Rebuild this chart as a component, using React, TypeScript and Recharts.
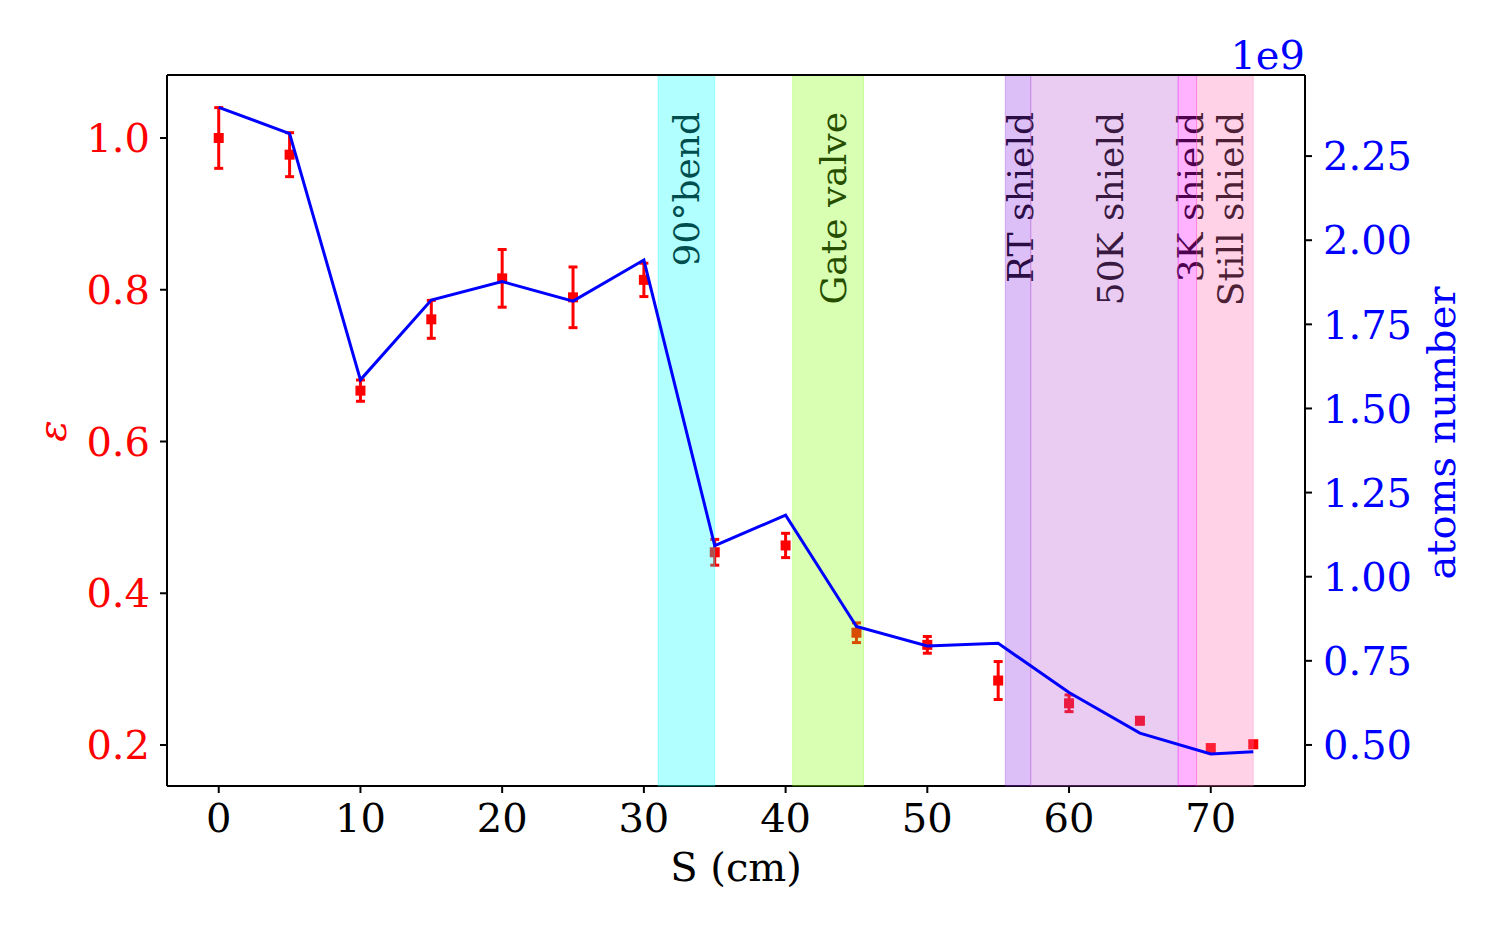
import React from "react";
import {
  ComposedChart,
  Line,
  Scatter,
  ErrorBar,
  XAxis,
  YAxis,
  ReferenceArea,
  ReferenceLine,
} from "recharts";

// position along the beam line, cm
const positions = [0, 5, 10, 15, 20, 25, 30, 35, 40, 45, 50, 55, 60, 65, 70, 73];
// efficiency epsilon and its error
const epsValues = [1.0, 0.978, 0.667, 0.761, 0.815, 0.79, 0.813, 0.454, 0.463, 0.348, 0.332, 0.285, 0.255, 0.232, 0.196, 0.201];
const epsErrors = [0.04, 0.029, 0.014, 0.025, 0.038, 0.04, 0.022, 0.017, 0.016, 0.013, 0.011, 0.025, 0.011, 0.004, 0.003, 0.004];
// atoms number, units of 1e9
const atomsValues = [2.395, 2.317, 1.585, 1.822, 1.877, 1.819, 1.941, 1.092, 1.183, 0.852, 0.794, 0.802, 0.656, 0.535, 0.473, 0.48];

const xTicks = [0, 10, 20, 30, 40, 50, 60, 70];
const epsTicks = [0.2, 0.4, 0.6, 0.8, 1.0];
const atomsTicks = [0.5, 0.75, 1.0, 1.25, 1.5, 1.75, 2.0, 2.25];

// shaded sections of the beam line
const sectionNames = ["90°bend", "Gate valve", "RT shield", "50K shield", "3K shield", "Still shield"];
const sectionStart = [31, 40.5, 55.5, 57.3, 67.7, 69.0];
const sectionEnd = [35, 45.5, 57.3, 67.7, 69.0, 73.0];
const sectionLabelX = [33.0, 43.4, 56.6, 62.9, 68.6, 71.4];
const sectionColors = ["#00ffff", "#7fff00", "#8a2be2", "#ba55d3", "#ff00ff", "#ff69b4"];

const X_DOMAIN = [-3.65, 76.65];
const EPS_DOMAIN = [0.146, 1.083];
const ATOMS_DOMAIN = [0.378, 2.491];

const data = positions.map((x, i) => ({
  x,
  eps: epsValues[i],
  err: epsErrors[i],
  atoms: atomsValues[i],
}));

const FONT = "DejaVu Serif";

const Square = (props: any) => {
  const { cx, cy } = props;
  if (cx == null || cy == null) return null;
  return <rect x={cx - 5} y={cy - 5} width={10} height={10} fill="#ff0000" />;
};

const sectionLabel = (name: string) => (props: any) => {
  const vb = props.viewBox || {};
  const x = vb.x;
  const y = (vb.y || 0) + 37;
  return (
    <text
      x={x}
      y={y}
      transform={`rotate(-90, ${x}, ${y})`}
      textAnchor="end"
      dominantBaseline="central"
      fontFamily={FONT}
      fontSize={36}
      fill="#000"
    >
      {name}
    </text>
  );
};

export default function App() {
  return (
    <div style={{ position: "absolute", left: 0, top: 0, width: 1500, height: 928, background: "#fff" }}>
      <ComposedChart
        width={1500}
        height={928}
        data={data}
        margin={{ top: 75, right: 0, bottom: 0, left: 0 }}
      >
        <XAxis
          dataKey="x"
          type="number"
          domain={X_DOMAIN}
          allowDataOverflow
          ticks={xTicks}
          height={142}
          stroke="#000"
          strokeWidth={2}
          tickSize={7}
          tickMargin={11}
          tick={{ fill: "#000", fontSize: 40, fontFamily: FONT }}
          label={(p: any) => {
            const vb = p.viewBox || {};
            return (
              <text x={vb.x + vb.width / 2} y={881} textAnchor="middle" fontFamily={FONT} fontSize={40} fill="#000">
                S (cm)
              </text>
            );
          }}
        />
        <YAxis
          yAxisId="left"
          type="number"
          domain={EPS_DOMAIN}
          allowDataOverflow
          ticks={epsTicks}
          tickFormatter={(v: number) => v.toFixed(1)}
          width={167}
          stroke="#000"
          strokeWidth={2}
          tickSize={7}
          tickMargin={10}
          tick={{ fill: "#ff0000", fontSize: 40, fontFamily: FONT }}
          label={() => (
            <text
              x={66}
              y={431}
              transform="rotate(-90, 66, 431)"
              textAnchor="middle"
              fontFamily={FONT}
              fontStyle="italic"
              fontSize={40}
              fill="#ff0000"
            >
              ε
            </text>
          )}
        />
        <YAxis
          yAxisId="right"
          orientation="right"
          type="number"
          domain={ATOMS_DOMAIN}
          allowDataOverflow
          ticks={atomsTicks}
          tickFormatter={(v: number) => v.toFixed(2)}
          width={195}
          stroke="#000"
          strokeWidth={2}
          tickSize={7}
          tickMargin={11}
          tick={{ fill: "#0000ff", fontSize: 40, fontFamily: FONT }}
          label={() => (
            <g>
              <text
                x={1455}
                y={433}
                transform="rotate(-90, 1455, 433)"
                textAnchor="middle"
                fontFamily={FONT}
                fontSize={40}
                fill="#0000ff"
              >
                atoms number
              </text>
              <text x={1305} y={69} textAnchor="end" fontFamily={FONT} fontSize={40} fill="#0000ff">
                1e9
              </text>
            </g>
          )}
        />

        {sectionNames.map((name, i) => (
          <ReferenceLine
            key={"lbl" + name}
            yAxisId="left"
            x={sectionLabelX[i]}
            stroke="none"
            zIndex={100}
            label={sectionLabel(name)}
          />
        ))}

        <Scatter
          yAxisId="left"
          dataKey="eps"
          shape={<Square />}
          isAnimationActive={false}
        >
          <ErrorBar dataKey="err" direction="y" width={4.5} stroke="#ff0000" strokeWidth={3} />
        </Scatter>

        {sectionNames.map((name, i) => (
          <ReferenceArea
            key={"area" + name}
            yAxisId="left"
            x1={sectionStart[i]}
            x2={sectionEnd[i]}
            y1={EPS_DOMAIN[0]}
            y2={EPS_DOMAIN[1]}
            fill={sectionColors[i]}
            fillOpacity={0.3}
            stroke={sectionColors[i]}
            strokeOpacity={0.3}
            strokeWidth={1}
            zIndex={650}
          />
        ))}

        <Line
          yAxisId="right"
          dataKey="atoms"
          type="linear"
          stroke="#0000ff"
          strokeWidth={3}
          dot={false}
          isAnimationActive={false}
          zIndex={700}
        />

        <ReferenceLine yAxisId="left" y={EPS_DOMAIN[1]} stroke="#000" strokeWidth={2} ifOverflow="extendDomain" zIndex={800} />
      </ComposedChart>
    </div>
  );
}
